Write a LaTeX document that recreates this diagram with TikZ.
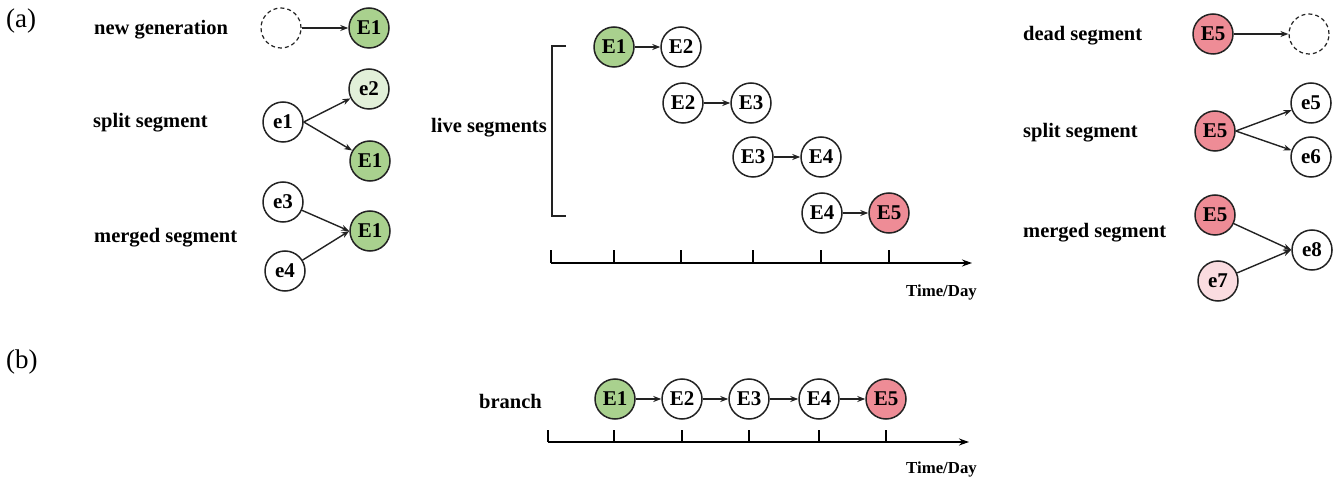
\documentclass[tikz,border=0pt]{standalone}
\usepackage{fontspec}
\setmainfont{Liberation Serif}
\usetikzlibrary{arrows.meta}
\definecolor{gfill}{HTML}{A9D18E}
\definecolor{glight}{HTML}{E2F0D9}
\definecolor{rfill}{HTML}{EE8C96}
\definecolor{rlight}{HTML}{FADCE0}
\definecolor{edge}{HTML}{222222}
\tikzset{
  ev/.style={circle, draw=edge, line width=1.5bp, minimum size=40bp, inner sep=0pt,
    font=\fontsize{21bp}{24bp}\selectfont\bfseries, fill=white},
  evg/.style={ev, fill=gfill},
  evgl/.style={ev, fill=glight},
  evr/.style={ev, fill=rfill},
  evrl/.style={ev, fill=rlight},
  ghost/.style={circle, draw=edge, line width=1.2bp, dash pattern=on 4bp off 3bp, minimum size=40bp, inner sep=0pt},
  lbl/.style={anchor=west, inner sep=0pt, yshift=-2bp, font=\fontsize{20.5bp}{24bp}\selectfont\bfseries},
  part/.style={anchor=west, inner sep=0pt, font=\fontsize{27bp}{30bp}\selectfont},
  axlbl/.style={anchor=east, inner sep=0pt, font=\fontsize{16.8bp}{19bp}\selectfont\bfseries},
  arr/.style={draw=edge, line width=1.4bp, -{Stealth[length=8bp,width=6bp]}},
  axis/.style={draw=black, line width=1.3bp, -{Stealth[length=10bp,width=7bp]}},
  tick/.style={draw=black, line width=1.3bp},
}
\begin{document}
\begin{tikzpicture}[x=1bp,y=-1bp]
\useasboundingbox (0,0) rectangle (1336,481);
% (a) left
\node[part] (pa) at (6,21) {(a)};
\node[lbl] (tng) at (94,28) {new generation};
\node[ghost] (d1) at (281,28) {};
\node[evg] (A1) at (369,28) {E1};
\draw[arr] (d1) -- (A1);
\node[lbl] (tsp) at (93,121) {split segment};
\node[ev] (e1) at (283,122) {e1};
\node[evgl] (e2) at (369,89) {e2};
\node[evg] (A2) at (370,161) {E1};
\draw[arr] (e1.east) -- (e2);
\draw[arr] (e1.east) -- (A2);
\node[lbl] (tmg) at (94,236) {merged segment};
\node[ev] (e3) at (283,202) {e3};
\node[ev] (e4) at (285,271) {e4};
\node[evg] (A3) at (370,231) {E1};
\draw[arr] (e3) -- (A3.west);
\draw[arr] (e4) -- (A3.west);
% (a) middle
\node[lbl] (tlive) at (431,126) {live segments};
\coordinate (b1) at (566,46);
\coordinate (b2) at (552,46);
\coordinate (b3) at (552,216);
\coordinate (b4) at (566,216);
\draw[line width=1.4bp, draw=edge] (b1) -- (b2) -- (b3) -- (b4);
\node[evg] (r1a) at (614,47) {E1};
\node[ev] (r1b) at (681,47) {E2};
\node[ev] (r2a) at (683,103) {E2};
\node[ev] (r2b) at (751,103) {E3};
\node[ev] (r3a) at (753,157) {E3};
\node[ev] (r3b) at (821,157) {E4};
\node[ev] (r4a) at (822,213) {E4};
\node[evr] (r4b) at (889,213) {E5};
\draw[arr] (r1a) -- (r1b);
\draw[arr] (r2a) -- (r2b);
\draw[arr] (r3a) -- (r3b);
\draw[arr] (r4a) -- (r4b);
\coordinate (x0) at (551,263);
\coordinate (x1) at (972,263);
\draw[axis] (x0) -- (x1);
\foreach \t in {551,614,681,753,821,889}{\draw[tick] (\t,263) -- (\t,250);}
\node[axlbl] (tt1) at (977,292) {Time/Day};
% (a) right
\node[lbl] (tds) at (1023,34) {dead segment};
\node[evr] (R1) at (1213,34) {E5};
\node[ghost] (d2) at (1309,34) {};
\draw[arr] (R1) -- (d2);
\node[lbl] (tsp2) at (1023,131) {split segment};
\node[evr] (R2) at (1215,131) {E5};
\node[ev] (e5) at (1311,103) {e5};
\node[ev] (e6) at (1311,157) {e6};
\draw[arr] (R2.east) -- (e5);
\draw[arr] (R2.east) -- (e6);
\node[lbl] (tmg2) at (1023,231) {merged segment};
\node[evr] (R3) at (1215,215) {E5};
\node[evrl] (e7) at (1218,281) {e7};
\node[ev] (e8) at (1312,250) {e8};
\draw[arr] (R3) -- (e8.west);
\draw[arr] (e7) -- (e8.west);
% (b)
\node[part] (pb) at (6,362) {(b)};
\node[lbl] (tbr) at (479,399) {branch};
\node[evg] (s1) at (615,399) {E1};
\node[ev] (s2) at (682,399) {E2};
\node[ev] (s3) at (749,399) {E3};
\node[ev] (s4) at (819,399) {E4};
\node[evr] (s5) at (886,399) {E5};
\draw[arr] (s1) -- (s2);
\draw[arr] (s2) -- (s3);
\draw[arr] (s3) -- (s4);
\draw[arr] (s4) -- (s5);
\coordinate (y0) at (548,442);
\coordinate (y1) at (969,442);
\draw[axis] (y0) -- (y1);
\foreach \t in {548,614,682,749,819,886}{\draw[tick] (\t,442) -- (\t,430);}
\node[axlbl] (tt2) at (977,469) {Time/Day};
\end{tikzpicture}
\end{document}
